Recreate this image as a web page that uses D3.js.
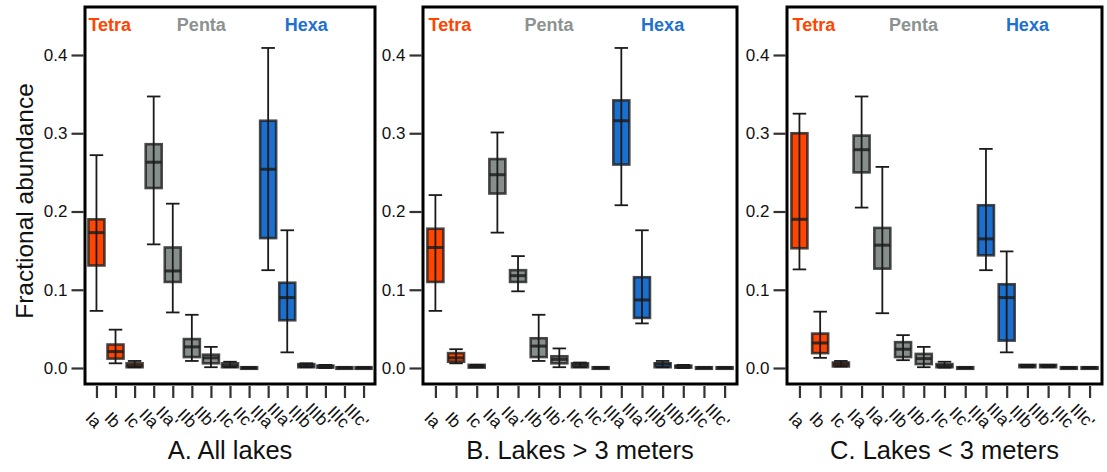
<!DOCTYPE html>
<html>
<head>
<meta charset="utf-8">
<script src="https://cdn.jsdelivr.net/npm/d3@7"></script>
<style>
  body { margin: 0; background: #fff; }
  svg { display: block; font-family: "Liberation Sans", Arial, Helvetica, sans-serif; }
</style>
</head>
<body>
<div id="chart"></div>
<script>
// categories (x axis)
var categories = ["Ia", "Ib", "Ic", "IIa", "IIa'", "IIb", "IIb'", "IIc", "IIc'",
                  "IIIa", "IIIa'", "IIIb", "IIIb'", "IIIc", "IIIc'"];
var groupOf = ["Tetra", "Tetra", "Tetra", "Penta", "Penta", "Penta", "Penta", "Penta", "Penta",
               "Hexa", "Hexa", "Hexa", "Hexa", "Hexa", "Hexa"];
var yTicks = [0.0, 0.1, 0.2, 0.3, 0.4];

// [lower whisker, q1, median, q3, upper whisker]
var allLakes = [
  [0.073, 0.131, 0.173, 0.190, 0.272],
  [0.006, 0.012, 0.021, 0.030, 0.049],
  [0.001, 0.001, 0.003, 0.006, 0.009],
  [0.158, 0.230, 0.263, 0.286, 0.347],
  [0.071, 0.110, 0.124, 0.154, 0.210],
  [0.009, 0.014, 0.027, 0.037, 0.068],
  [0.001, 0.006, 0.013, 0.017, 0.027],
  [0.001, 0.001, 0.003, 0.006, 0.008],
  [0.000, -0.001, 0.000, 0.001, 0.001],
  [0.125, 0.166, 0.254, 0.316, 0.409],
  [0.020, 0.061, 0.090, 0.109, 0.176],
  [0.001, 0.001, 0.003, 0.005, 0.006],
  [0.000, 0.0005, 0.002, 0.003, 0.004],
  [0.000, -0.001, 0.000, 0.001, 0.001],
  [0.000, -0.001, 0.000, 0.001, 0.001]
];
var deepLakes = [
  [0.073, 0.110, 0.154, 0.178, 0.221],
  [0.006, 0.008, 0.013, 0.019, 0.024],
  [0.001, 0.0005, 0.002, 0.004, 0.004],
  [0.173, 0.223, 0.247, 0.267, 0.301],
  [0.098, 0.110, 0.118, 0.125, 0.143],
  [0.009, 0.014, 0.028, 0.038, 0.068],
  [0.001, 0.006, 0.011, 0.015, 0.025],
  [0.001, 0.001, 0.004, 0.006, 0.007],
  [0.000, -0.001, 0.000, 0.001, 0.001],
  [0.208, 0.260, 0.316, 0.342, 0.409],
  [0.057, 0.064, 0.087, 0.116, 0.176],
  [0.001, 0.001, 0.005, 0.006, 0.009],
  [0.000, 0.0005, 0.002, 0.003, 0.004],
  [0.000, -0.001, 0.000, 0.001, 0.001],
  [0.000, -0.001, 0.000, 0.001, 0.001]
];
var shallowLakes = [
  [0.126, 0.153, 0.190, 0.300, 0.325],
  [0.013, 0.019, 0.032, 0.044, 0.072],
  [0.002, 0.002, 0.005, 0.007, 0.009],
  [0.205, 0.250, 0.279, 0.297, 0.347],
  [0.070, 0.127, 0.157, 0.179, 0.257],
  [0.010, 0.014, 0.024, 0.033, 0.042],
  [0.001, 0.005, 0.012, 0.018, 0.027],
  [0.0005, 0.001, 0.003, 0.005, 0.008],
  [0.000, -0.001, 0.000, 0.001, 0.001],
  [0.125, 0.144, 0.165, 0.208, 0.280],
  [0.020, 0.035, 0.090, 0.107, 0.149],
  [0.001, 0.001, 0.003, 0.004, 0.004],
  [0.001, 0.001, 0.003, 0.004, 0.004],
  [0.000, -0.001, 0.000, 0.001, 0.001],
  [0.000, -0.001, 0.000, 0.001, 0.001]
];

var groupNames = ["Tetra", "Penta", "Hexa"];
var groupPos = [0.7, 5.5, 11];  // label centre, in category steps

var fillColor = { Tetra: "#ff4500", Penta: "#878f8c", Hexa: "#1a6fcf" };
var textColor = { Tetra: "#ff4500", Penta: "#8b9290", Hexa: "#1f70d0" };

var width = 1107, height = 472;
var plotTop = 7, plotBottom = 384;

var svg = d3.select("#chart").append("svg")
  .attr("width", width)
  .attr("height", height);

var y = d3.scaleLinear().domain([0, 0.4]).range([368, 55]);

var panels = [
  { title: "A. All lakes", x0: 85, x1: 375, data: allLakes },
  { title: "B. Lakes > 3 meters", x0: 423, x1: 737, data: deepLakes },
  { title: "C. Lakes < 3 meters", x0: 787, x1: 1102, data: shallowLakes }
];

panels.forEach(function(p) {
  var x = d3.scalePoint().domain(categories).range([p.x0, p.x1]).padding(0.6);
  var step = x.step();
  var boxW = 16, capW = 13.5;
  var g = svg.append("g");

  // y axis
  var yAxis = g.append("g")
    .attr("transform", "translate(" + (p.x0 - 1.5) + ",0)")
    .call(d3.axisLeft(y).tickValues(yTicks).tickFormat(d3.format(".1f")).tickSize(12).tickPadding(4));
  yAxis.select(".domain").remove();
  yAxis.selectAll(".tick line").attr("stroke", "#333").attr("stroke-width", 2.2);
  yAxis.selectAll(".tick text").attr("fill", "#111").style("font-size", "17px")
    .style("font-family", "'Liberation Sans', Arial, sans-serif");

  // x axis
  var xAxis = g.append("g")
    .attr("transform", "translate(0," + (plotBottom + 2) + ")")
    .call(d3.axisBottom(x).tickSize(12).tickFormat(""));
  xAxis.select(".domain").remove();
  xAxis.selectAll(".tick line").attr("stroke", "#333").attr("stroke-width", 2.2);

  // labels turned clockwise, ending just under their tick
  g.selectAll(".xlab")
    .data(categories)
    .enter()
    .append("text")
    .attr("class", "xlab")
    .attr("transform", function(d) { return "translate(" + (x(d) - 2) + ",429) rotate(45)"; })
    .attr("text-anchor", "end")
    .style("font-size", "17px")
    .attr("fill", "#111")
    .text(function(d) { return d; });

  // boxes
  var box = g.selectAll(".box")
    .data(p.data)
    .enter()
    .append("g")
    .attr("transform", function(d, i) { return "translate(" + x(categories[i]) + ",0)"; });

  box.append("rect")
    .attr("x", -boxW / 2)
    .attr("width", boxW)
    .attr("y", function(d) { return y(d[3]); })
    .attr("height", function(d) { return Math.max(0.5, y(d[1]) - y(d[3])); })
    .attr("fill", function(d, i) { return fillColor[groupOf[i]]; })
    .attr("stroke", "rgba(30,30,30,0.8)")
    .attr("stroke-width", 2.6);

  box.append("line")
    .attr("x1", -boxW / 2).attr("x2", boxW / 2)
    .attr("y1", function(d) { return y(d[2]); })
    .attr("y2", function(d) { return y(d[2]); })
    .attr("stroke", "rgba(30,30,30,0.85)")
    .attr("stroke-width", 3);

  box.append("line")
    .attr("x1", 0).attr("x2", 0)
    .attr("y1", function(d) { return y(d[0]); })
    .attr("y2", function(d) { return y(d[4]); })
    .attr("stroke", "#1a1a1a")
    .attr("stroke-width", 1.8);

  [0, 4].forEach(function(k) {
    box.append("line")
      .attr("x1", -capW / 2).attr("x2", capW / 2)
      .attr("y1", function(d) { return y(d[k]); })
      .attr("y2", function(d) { return y(d[k]); })
      .attr("stroke", "#1a1a1a")
      .attr("stroke-width", 1.8);
  });

  // group labels
  groupNames.forEach(function(name, j) {
    g.append("text")
      .attr("x", x(categories[0]) + groupPos[j] * step)
      .attr("y", 31)
      .attr("text-anchor", "middle")
      .style("font-size", "18px")
      .style("font-weight", "bold")
      .attr("fill", textColor[name])
      .text(name);
  });

  // frame
  g.append("rect")
    .attr("x", p.x0).attr("y", plotTop)
    .attr("width", p.x1 - p.x0).attr("height", plotBottom - plotTop)
    .attr("fill", "none")
    .attr("stroke", "#000")
    .attr("stroke-width", 3);

  // panel title
  g.append("text")
    .attr("x", (p.x0 + p.x1) / 2)
    .attr("y", 459)
    .attr("text-anchor", "middle")
    .style("font-size", "25.5px")
    .attr("fill", "#111")
    .text(p.title);
});

svg.append("text")
  .attr("transform", "translate(33,201) rotate(-90)")
  .attr("text-anchor", "middle")
  .style("font-size", "24.5px")
  .attr("fill", "#111")
  .text("Fractional abundance");
</script>
</body>
</html>
